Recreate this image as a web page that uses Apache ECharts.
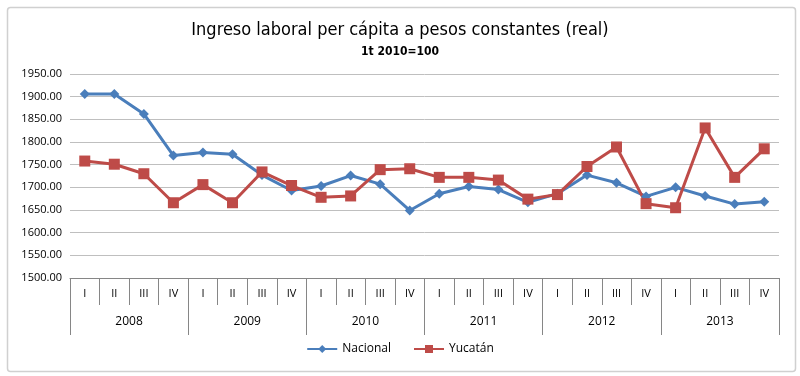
<!DOCTYPE html>
<html>
<head>
<meta charset="utf-8">
<script src="https://cdn.jsdelivr.net/npm/echarts@6/dist/echarts.min.js"></script>
<style>
  html, body { margin:0; padding:0; background:#fff; }
  #chart { width:800px; height:376px; }
</style>
</head>
<body>
<div id="chart"></div>
<script>
const quarters = ['I','II','III','IV'];
const years = ['2008','2009','2010','2011','2012','2013'];
const nacional = [1906,1906,1862,1770, 1777,1773,1727,1693, 1703,1726,1707,1649,
                  1686,1702,1695,1667, 1686,1727,1710,1680, 1700,1681,1663,1668];
const yucatan  = [1758,1751,1730,1666, 1706,1666,1734,1704, 1678,1681,1739,1741,
                  1722,1722,1716,1674, 1684,1746,1789,1664, 1655,1831,1722,1785];

const FONT = '"Open Sans", sans-serif';
const TFONT = '"DejaVu Sans Condensed", "Open Sans", sans-serif';
const qLabels = [];
years.forEach(() => quarters.forEach(q => qLabels.push(q)));

const c = echarts.init(document.getElementById('chart'));
c.setOption({
  animation: false,
  textStyle: { fontFamily: FONT },
  title: [
    { text: 'Ingreso laboral per cápita a pesos constantes (real)', left: 'center', top: 16,
      textStyle: { fontSize: 18, fontWeight: 'normal', color: '#000', fontFamily: TFONT } },
    { text: '1t 2010=100', left: 'center', top: 41,
      textStyle: { fontSize: 12, fontWeight: 'bold', color: '#000', fontFamily: TFONT } }
  ],
  graphic: [{
    type: 'rect', left: 5, top: 5, shape: { width: 788, height: 364, r: 3 },
    style: { fill: 'none', stroke: '#d0d0d0', lineWidth: 1.5 }, silent: true, z: -1
  }],
  legend: {
    bottom: 16, left: 'center', itemWidth: 30, itemHeight: 10, itemGap: 22,
    textStyle: { fontSize: 12, color: '#000', fontFamily: FONT },
    data: ['Nacional', 'Yucatán']
  },
  grid: { left: 70, right: 21, top: 74, bottom: 98 },
  xAxis: [
    { type: 'category', data: qLabels, boundaryGap: true,
      axisLine: { lineStyle: { color: '#868686', width: 1 } },
      axisTick: { show: true, interval: 0, length: 27, lineStyle: { color: '#868686' } },
      axisLabel: { interval: 0, margin: 10, fontSize: 11, color: '#000', fontFamily: FONT } },
    { type: 'category', data: years, position: 'bottom', boundaryGap: true,
      axisLine: { show: false },
      axisTick: { show: true, interval: 0, length: 57, lineStyle: { color: '#868686' } },
      axisLabel: { interval: 0, margin: 38, fontSize: 12, color: '#000', fontFamily: FONT } }
  ],
  yAxis: {
    type: 'value', min: 1500, max: 1950, interval: 50,
    axisLine: { show: false }, axisTick: { show: false },
    splitLine: { lineStyle: { color: '#bfbfbf', width: 1 } },
    axisLabel: { fontSize: 11, color: '#000', margin: 8, fontFamily: FONT,
      formatter: v => v.toFixed(2) }
  },
  series: [
    { name: 'Nacional', type: 'line', data: nacional, xAxisIndex: 0,
      symbol: 'diamond', symbolSize: 10,
      lineStyle: { color: '#4A7EBB', width: 3 },
      itemStyle: { color: '#4A7EBB' } },
    { name: 'Yucatán', type: 'line', data: yucatan, xAxisIndex: 0,
      symbol: 'rect', symbolSize: 11,
      lineStyle: { color: '#BE4B48', width: 3 },
      itemStyle: { color: '#BE4B48' } }
  ]
});
</script>
</body>
</html>
